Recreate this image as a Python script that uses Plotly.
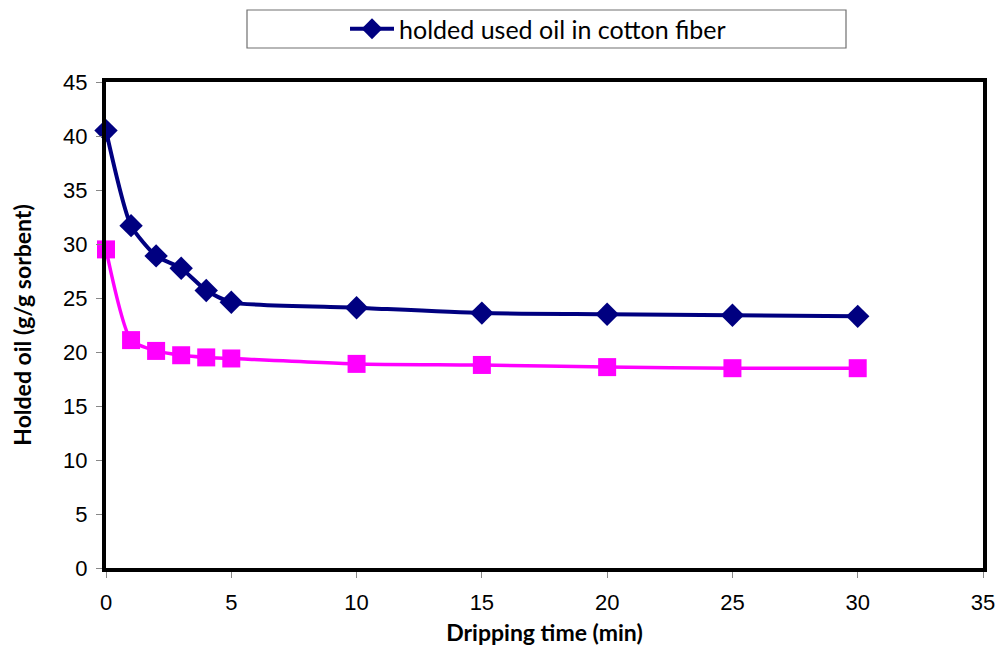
import plotly.graph_objects as go

time_min = [0, 1, 2, 3, 4, 5, 10, 15, 20, 25, 30]
cotton_oil = [40.5, 31.7, 28.9, 27.75, 25.7, 24.6, 24.1, 23.6, 23.5, 23.4, 23.3]
second_oil = [29.5, 21.1, 20.1, 19.7, 19.5, 19.4, 18.9, 18.8, 18.6, 18.5, 18.5]
series_name = "holded used oil in cotton fiber"
x_title = "Dripping time (min)"
y_title = "Holded oil (g/g sorbent)"

fig = go.Figure()
fig.add_trace(go.Scatter(
    x=time_min, y=second_oil, mode="lines+markers", showlegend=False, cliponaxis=False,
    line=dict(color="#FF00FF", width=3.5, shape="spline", smoothing=0.6),
    marker=dict(symbol="square", size=18, color="#FF00FF"),
))
fig.add_trace(go.Scatter(
    x=time_min, y=cotton_oil, mode="lines+markers", name=series_name, cliponaxis=False,
    line=dict(color="#000080", width=4, shape="spline", smoothing=0.6),
    marker=dict(symbol="diamond", size=18, color="#000080"),
))

L, R, T, B = 106, 14, 82, 78
W, H = 997, 646
pw, ph = W - L - R, H - T - B

def px_x(p):
    return (p - L) / pw

def px_y(p):
    return (H - B - p) / ph

fig.add_shape(type="rect", xref="paper", yref="paper",
              x0=px_x(247), x1=px_x(846), y0=px_y(48), y1=px_y(10),
              line=dict(color="#707070", width=1.2), fillcolor="white", layer="below")

axis_common = dict(
    showgrid=False, zeroline=False, showline=True, linecolor="black", linewidth=4,
    mirror=True, ticks="outside", ticklen=6, tickcolor="#888888", tickwidth=1.2,
    tickfont=dict(family="Liberation Sans, Arial, sans-serif", size=22, color="black"),
)

fig.update_layout(
    width=W, height=H,
    margin=dict(l=L, r=R, t=T, b=B, autoexpand=False),
    paper_bgcolor="white", plot_bgcolor="white",
    xaxis=dict(range=[0, 35], dtick=5, ticklabelstandoff=6, **axis_common,
               title=dict(text=f"<b>{x_title}</b>", standoff=22,
                          font=dict(family="Lato, Noto Sans, sans-serif", size=23, color="black"))),
    yaxis=dict(range=[0, 45], dtick=5, ticklabelstandoff=4, **axis_common,
               title=dict(text=f"<b>{y_title}</b>", standoff=26,
                          font=dict(family="Lato, Noto Sans, sans-serif", size=23, color="black"))),
    legend=dict(x=px_x(538), y=px_y(29), xanchor="center", yanchor="middle",
                bgcolor="rgba(0,0,0,0)", borderwidth=0,
                font=dict(family="Lato, Noto Sans, sans-serif", size=25, color="black"),
                itemwidth=44),
    showlegend=True,
)

fig.write_html("out.html", config={"displayModeBar": False},
               post_script="document.body.style.margin='0';document.body.style.overflow='hidden';")
